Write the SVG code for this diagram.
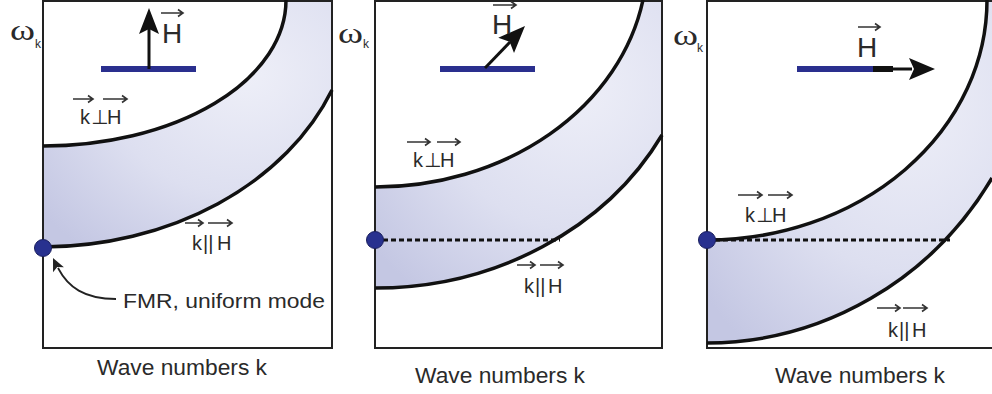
<svg xmlns="http://www.w3.org/2000/svg" width="992" height="394" viewBox="0 0 992 394">
<defs>
<radialGradient id="band" cx="0.7" cy="0.3" r="0.9">
<stop offset="0" stop-color="#eeeff8"/>
<stop offset="0.55" stop-color="#dddff0"/>
<stop offset="1" stop-color="#c4c7e3"/>
</radialGradient>
<style>
.box{fill:none;stroke:#222;stroke-width:2}
.band{fill:url(#band);stroke:none}
.crv{fill:none;stroke:#111;stroke-width:3.5}
.dot{fill:#28318f;stroke:#1a1f5e;stroke-width:1}
.dash{fill:none;stroke:#111;stroke-width:3;stroke-dasharray:5 3}
.bar{fill:#2a2f8e}
.arr{fill:none;stroke:#111;stroke-width:3}
.head{fill:#111}
.vec{fill:none;stroke:#333;stroke-width:1.6}
.t{font-family:"Liberation Sans",Arial,sans-serif;fill:#2a2a2a}
.lbl{font-size:20px}
.perp{font-family:"DejaVu Sans","Liberation Sans",sans-serif}
.om{font-family:"Liberation Serif","Times New Roman",serif;font-size:30px;fill:#2a2a2a}
.sub{font-family:"Liberation Sans",Arial,sans-serif;font-size:12px;fill:#2a2a2a}
.Hl{font-size:28px}
.axis{font-size:22px}
</style>
</defs>

<g id="panel1">
<path class="band" d="M43,146 A243,146 0 0 0 286,0 L332,0 L332,90 A312,247 0 0 1 43,247 Z"/>
<rect class="box" x="43" y="1" width="289" height="347"/>
<path class="crv" d="M43,146 A243,146 0 0 0 286,0"/>
<path class="crv" d="M43,247 A312,247 0 0 0 332,90"/>
<circle class="dot" cx="43" cy="248" r="8.5"/>
<rect class="bar" x="101" y="66" width="95" height="6"/>
<path class="arr" d="M149,69 V28"/>
<polygon class="head" points="0,0 -26,-10 -21,0 -26,10" transform="translate(149,8) rotate(-90)"/>
<text class="t Hl" x="162" y="43">H</text>
<path class="vec" d="M161,13 H183 M178,9.5 L183,13 L178,16.5"/>
<text class="om" x="10" y="40" textLength="25" lengthAdjust="spacingAndGlyphs">ω</text>
<text class="sub" x="35" y="48">k</text>
<text class="t lbl" y="124"><tspan x="80">k</tspan><tspan class="perp" x="91">⊥</tspan><tspan x="107">H</tspan></text>
<path class="vec" d="M73,99 H93 M88,95.5 L93,99 L88,102.5 M103,99 H127 M122,95.5 L127,99 L122,102.5"/>
<text class="t lbl" y="250"><tspan x="192">k</tspan><tspan x="203">||</tspan><tspan x="217">H</tspan></text>
<path class="vec" d="M185,223 H203 M198,219.5 L203,223 L198,226.5 M208,223 H232 M227,219.5 L232,223 L227,226.5"/>
<path class="vec" style="stroke:#222;stroke-width:1.8" d="M116,299 C84,299 68,287 58,268"/>
<polygon class="head" style="fill:#222" points="0,0 -13,-6 -10,0 -13,6" transform="translate(53,258) rotate(-115)"/>
<text class="t" x="123" y="308" font-size="21" textLength="202" lengthAdjust="spacingAndGlyphs">FMR, uniform mode</text>
<text class="t axis" x="97" y="375" textLength="170" lengthAdjust="spacingAndGlyphs">Wave numbers k</text>
</g>

<g id="panel2">
<path class="band" d="M375,187 A272,227 0 0 0 643,0 L662,0 L662,135 A325,288 0 0 1 375,288 Z"/>
<rect class="box" x="375" y="1" width="287" height="347"/>
<path class="crv" d="M375,187 A272,227 0 0 0 643,0"/>
<path class="crv" d="M375,288 A325,288 0 0 0 662,135"/>
<path class="dash" d="M383,240 H560"/>
<circle class="dot" cx="375" cy="240" r="8.5"/>
<rect class="bar" x="440" y="66" width="95" height="6"/>
<path class="arr" d="M485,68 L510,42"/>
<polygon class="head" points="0,0 -27,-11 -22,0 -27,11" transform="translate(525,26) rotate(-45.7)"/>
<text class="t Hl" x="492" y="34">H</text>
<path class="vec" d="M493,5 H516 M511,1.5 L516,5 L511,8.5"/>
<text class="om" x="338" y="43" textLength="25" lengthAdjust="spacingAndGlyphs">ω</text>
<text class="sub" x="363" y="48">k</text>
<text class="t lbl" y="167"><tspan x="413">k</tspan><tspan class="perp" x="424">⊥</tspan><tspan x="440">H</tspan></text>
<path class="vec" d="M407,142 H430 M425,138.5 L430,142 L425,145.5 M437,142 H460 M455,138.5 L460,142 L455,145.5"/>
<text class="t lbl" y="293"><tspan x="524">k</tspan><tspan x="535">||</tspan><tspan x="548">H</tspan></text>
<path class="vec" d="M517,265 H535 M530,261.5 L535,265 L530,268.5 M540,265 H563 M558,261.5 L563,265 L558,268.5"/>
<text class="t axis" x="415" y="383" textLength="170" lengthAdjust="spacingAndGlyphs">Wave numbers k</text>
</g>

<g id="panel3">
<path class="band" d="M707,240 A280,240 0 0 0 987,0 L992,0 L992,178 A335,343 0 0 1 707,343 Z"/>
<rect class="box" x="707" y="1" width="295" height="347"/>
<path class="crv" d="M707,240 A280,240 0 0 0 987,0"/>
<path class="crv" d="M707,343 A335,343 0 0 0 992,178"/>
<path class="dash" d="M715,240 H950"/>
<circle class="dot" cx="707" cy="240" r="8.5"/>
<rect class="bar" x="797" y="66" width="76" height="6"/>
<rect x="873" y="66" width="20" height="6" fill="#111"/>
<path class="arr" d="M892,69 H912"/>
<polygon class="head" points="0,0 -26,-11 -21,0 -26,11" transform="translate(935,69)"/>
<text class="t Hl" x="857" y="57">H</text>
<path class="vec" d="M858,27 H880 M875,23.5 L880,27 L875,30.5"/>
<text class="om" x="673" y="45" textLength="25" lengthAdjust="spacingAndGlyphs">ω</text>
<text class="sub" x="697" y="52">k</text>
<text class="t lbl" y="222"><tspan x="745">k</tspan><tspan class="perp" x="756">⊥</tspan><tspan x="772">H</tspan></text>
<path class="vec" d="M738,195 H762 M757,191.5 L762,195 L757,198.5 M768,195 H792 M787,191.5 L792,195 L787,198.5"/>
<text class="t lbl" y="337"><tspan x="888">k</tspan><tspan x="899">||</tspan><tspan x="912">H</tspan></text>
<path class="vec" d="M877,308 H900 M895,304.5 L900,308 L895,311.5 M903,308 H927 M922,304.5 L927,308 L922,311.5"/>
<text class="t axis" x="775" y="383" textLength="170" lengthAdjust="spacingAndGlyphs">Wave numbers k</text>
</g>
</svg>
